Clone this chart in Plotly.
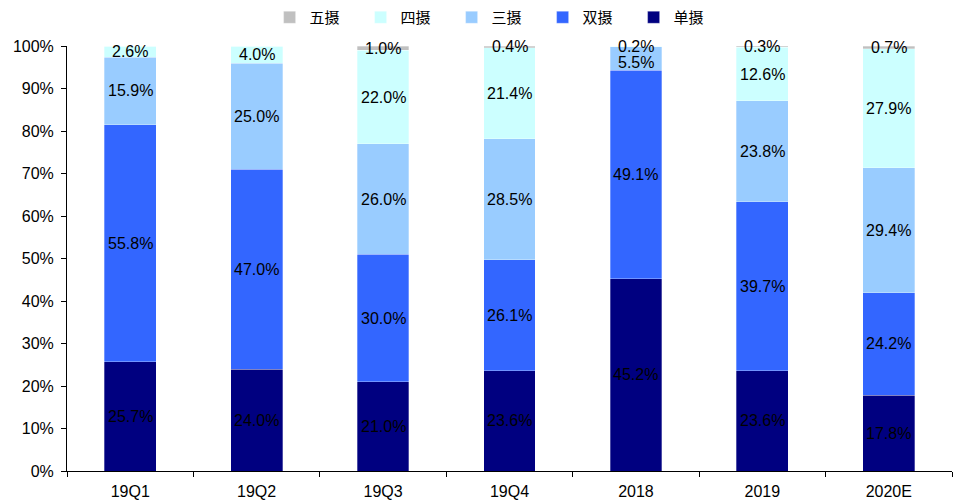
import plotly.graph_objects as go

categories = ["19Q1", "19Q2", "19Q3", "19Q4", "2018", "2019", "2020E"]
single_cam = [25.7, 24.0, 21.0, 23.6, 45.2, 23.6, 17.8]
dual_cam = [55.8, 47.0, 30.0, 26.1, 49.1, 39.7, 24.2]
triple_cam = [15.9, 25.0, 26.0, 28.5, 5.5, 23.8, 29.4]
quad_cam = [2.6, 4.0, 22.0, 21.4, 0.2, 12.6, 27.9]
penta_cam = [0.0, 0.0, 1.0, 0.4, 0.0, 0.3, 0.7]

series = [
    ("单摄", single_cam, "#000080"),
    ("双摄", dual_cam, "#3366FF"),
    ("三摄", triple_cam, "#99CCFF"),
    ("四摄", quad_cam, "#CCFFFF"),
    ("五摄", penta_cam, "#C0C0C0"),
]

fig = go.Figure()
for name, vals, color in series:
    fig.add_trace(go.Bar(
        name=name,
        x=categories,
        y=vals,
        marker=dict(color=color, line=dict(width=0.5, color="rgba(255,255,255,0.6)")),
        hovertemplate="%{x} " + name + ": %{y:.1f}%<extra></extra>",
    ))

# value labels centred on each segment; labels that would collide with the
# one above them in the same bar are pushed down a little.
# Annotations use the category index so that "2018"/"2019" are not read as numbers.
min_gap = 3.8  # in percentage points of the axis
annotations = []
for i, cat in enumerate(categories):
    base = 0.0
    mids = []
    for name, vals, color in series:
        v = vals[i]
        if v > 0:
            mids.append((base + v / 2.0, v))
        base += v
    placed = []
    for mid, v in sorted(mids, key=lambda m: -m[0]):
        y = mid
        if placed and placed[-1] - y < min_gap:
            y = placed[-1] - min_gap
        placed.append(y)
        annotations.append(dict(
            x=i, y=y, xref="x", yref="y",
            text=f"{v:.1f}%", showarrow=False,
            font=dict(color="black", size=16, family="Liberation Sans, Arial"),
        ))

fig.update_layout(
    barmode="stack",
    bargap=0.59,
    width=960,
    height=500,
    margin=dict(l=67, r=8, t=46, b=29, autoexpand=False),
    plot_bgcolor="white",
    paper_bgcolor="white",
    annotations=annotations,
    font=dict(family="Liberation Sans, Arial", size=16, color="black"),
    legend=dict(
        orientation="h",
        traceorder="reversed",
        x=0.486,
        xanchor="center",
        y=0.965,
        yanchor="middle",
        yref="container",
        font=dict(family="Noto Sans CJK SC", size=15, color="black"),
        itemwidth=30,
        entrywidth=46,
        entrywidthmode="pixels",
        tracegroupgap=0,
    ),
    xaxis=dict(
        type="category",
        range=[-0.5, len(categories) - 0.5],
        automargin=False,
        showline=True,
        linecolor="black",
        linewidth=1,
        ticks="outside",
        ticklen=5,
        tickcolor="black",
        tickson="boundaries",
        tickangle=0,
        tickfont=dict(size=16),
        ticklabelstandoff=6,
    ),
    yaxis=dict(
        range=[0, 100],
        automargin=False,
        tickvals=list(range(0, 101, 10)),
        ticktext=[f"{v}%" for v in range(0, 101, 10)],
        showline=True,
        linecolor="black",
        linewidth=1,
        ticks="outside",
        ticklen=5,
        tickcolor="black",
        showgrid=False,
        zeroline=False,
        tickfont=dict(size=16),
        ticklabelstandoff=4,
    ),
)

fig.write_html("out.html")
